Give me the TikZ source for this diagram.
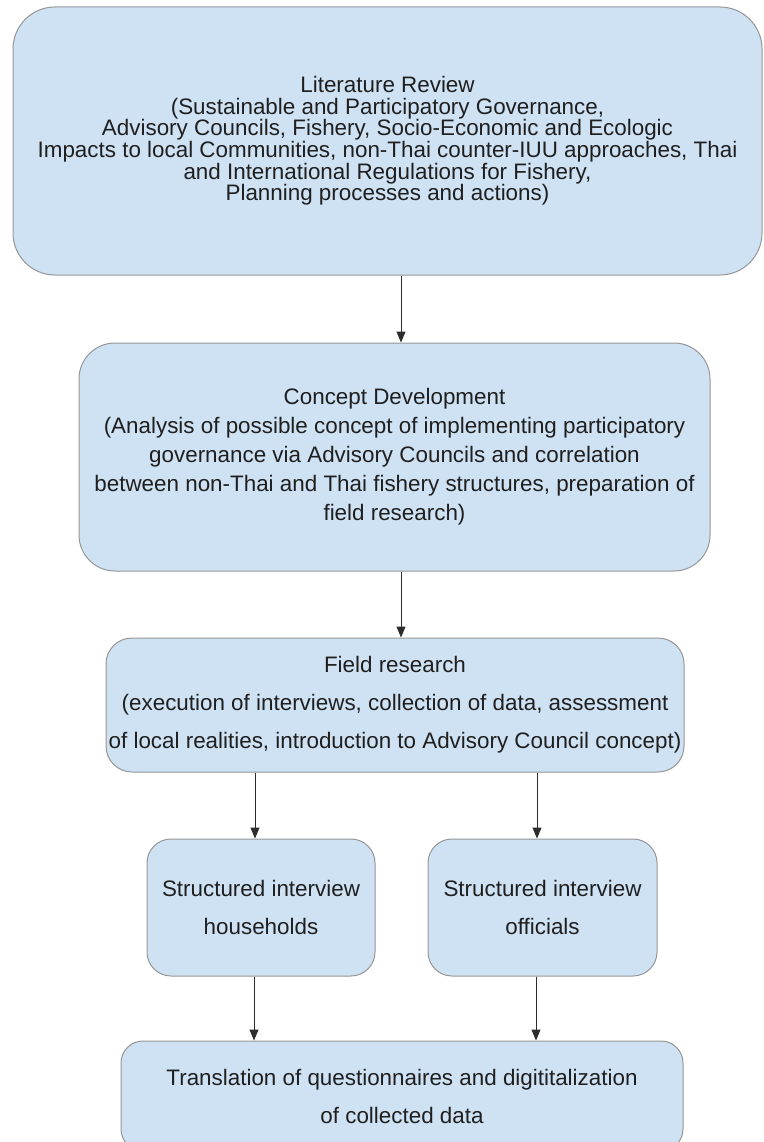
\documentclass[tikz,border=0pt]{standalone}
\usepackage{fontspec}
\setmainfont{Liberation Sans}
\usetikzlibrary{arrows.meta}

\definecolor{stagefill}{RGB}{207,226,243}
\definecolor{stageline}{RGB}{150,150,150}
\definecolor{flowline}{RGB}{45,45,45}

\begin{document}
\begin{tikzpicture}[
    x=1pt, y=-1pt,
    >={Triangle[length=11pt,width=9pt]},
    stage/.style={draw=stageline, fill=stagefill, line width=1pt, align=center, inner sep=0pt, text=black!88},
    tight/.style={font=\fontsize{22.4}{21.6}\selectfont},
    medium/.style={font=\fontsize{22.4}{29}\selectfont},
    loose/.style={font=\fontsize{22.4}{38}\selectfont},
    flow/.style={->, draw=flowline, line width=1pt}
]
\useasboundingbox (0,0) rectangle (763,1142);
\clip (0,0) rectangle (763,1142);

\node[stage, tight, rounded corners=42pt, minimum width=749pt, minimum height=268pt] (lit) at (387.5,141) {Literature Review\\(Sustainable and Participatory Governance,\\Advisory Councils, Fishery, Socio-Economic and Ecologic\\Impacts to local Communities, non-Thai counter-IUU approaches, Thai\\and International Regulations for Fishery,\\Planning processes and actions)};

\node[stage, medium, rounded corners=36pt, minimum width=631pt, minimum height=228pt] (concept) at (394.5,457) {Concept Development\\(Analysis of possible concept of implementing participatory\\governance via Advisory Councils and correlation\\between non-Thai and Thai fishery structures, preparation of\\field research)};

\node[stage, loose, rounded corners=26pt, minimum width=578pt, minimum height=134pt] (field) at (395,705) {Field research\\(execution of interviews, collection of data, assessment\\of local realities, introduction to Advisory Council concept)};

\node[stage, loose, rounded corners=24pt, minimum width=228pt, minimum height=137pt] (house) at (261,907.5) {Structured interview\\households};
\node[stage, loose, rounded corners=24pt, minimum width=229pt, minimum height=137pt] (offic) at (542.5,907.5) {Structured interview\\officials};

\node[stage, loose, rounded corners=22pt, minimum width=562pt, minimum height=110pt] (transl) at (402,1096) {Translation of questionnaires and digititalization\\of collected data};

\draw[flow] ([xshift=13.5pt]lit.south) -- ([xshift=6.5pt]concept.north);
\draw[flow] ([xshift=6.5pt]concept.south) -- ([xshift=6pt]field.north);
\draw[flow] ([xshift=-140pt]field.south) -- ([xshift=-6pt]house.north);
\draw[flow] ([xshift=142pt]field.south) -- ([xshift=-5.5pt]offic.north);
\draw[flow] ([xshift=-7pt]house.south) -- ([xshift=-148pt]transl.north);
\draw[flow] ([xshift=-6.5pt]offic.south) -- ([xshift=134pt]transl.north);

\end{tikzpicture}
\end{document}
